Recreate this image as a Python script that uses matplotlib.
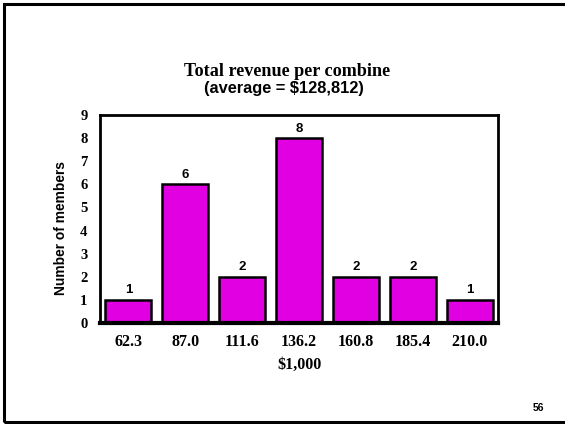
import matplotlib
matplotlib.use("Agg")
import matplotlib.pyplot as plt
from matplotlib.patches import Rectangle

categories = ["62.3", "87.0", "111.6", "136.2", "160.8", "185.4", "210.0"]
counts = [1, 6, 2, 8, 2, 2, 1]
yticks = list(range(0, 10))

SERIF = "Liberation Serif"
SANS = "Liberation Sans"

fig = plt.figure(figsize=(5.65, 4.24), dpi=100)
fig.patch.set_facecolor("white")

# slide frame
fig.add_artist(Rectangle((4/565, 2/424), 1.2, 1 - 4/424 - 2/424 + 0.0, transform=fig.transFigure,
                         fill=False, edgecolor="black", linewidth=2.2, clip_on=False))

ax = fig.add_axes([100/565, 1 - 323/424, 398/565, 208/424])
x = list(range(len(categories)))
bars = ax.bar(x, counts, width=0.81, color="#E100E1", edgecolor="black", linewidth=1.8)
ax.set_xlim(-0.5, len(categories) - 0.5)
ax.set_ylim(0, 9)
ax.set_yticks(yticks)
ax.set_yticklabels([str(v) for v in yticks], fontfamily=SERIF, fontweight="bold", fontsize=10.5)
ax.set_xticks(x)
ax.set_xticklabels(categories, fontfamily=SERIF, fontweight="bold", fontsize=11.5)
ax.tick_params(axis="both", length=0)
ax.tick_params(axis="y", pad=9)
ax.tick_params(axis="x", pad=8)
for s in ax.spines.values():
    s.set_linewidth(2)
ax.spines["bottom"].set_linewidth(3)

for xi, c in zip(x, counts):
    ax.text(xi, c + 0.15, str(c), ha="center", va="bottom", fontfamily=SANS,
            fontweight="bold", fontsize=9.5)

ax.set_ylabel("Number of members", fontfamily=SANS, fontweight="bold", fontsize=9.9)
ax.yaxis.set_label_coords(-0.080, 0.457)
ax.set_xlabel("$1,000", fontfamily=SERIF, fontweight="bold", fontsize=11.5, labelpad=5)

fig.text(287/565, 1 - 71/424, "Total revenue per combine", ha="center", va="center",
         fontfamily=SERIF, fontweight="bold", fontsize=13.1)
fig.text(284/565, 1 - 88/424, "(average = $128,812)", ha="center", va="center",
         fontfamily=SANS, fontweight="bold", fontsize=11.8)
fig.text(538/565, 1 - 408/424, "56", ha="center", va="center",
         fontfamily=SANS, fontweight="bold", fontsize=7.5)

fig.savefig("out.png", dpi=100)
